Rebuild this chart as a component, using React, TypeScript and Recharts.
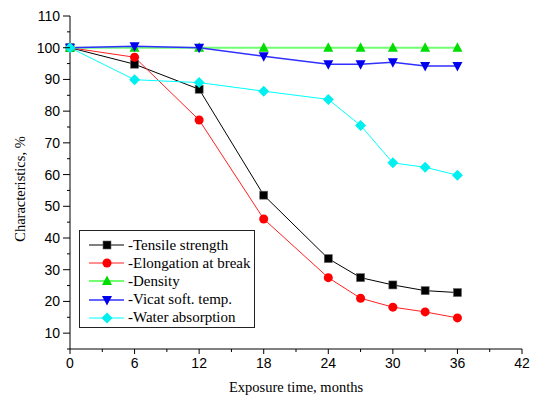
import { LineChart, Line, XAxis, YAxis, Legend } from "recharts";

const MONTHS = [0, 6, 12, 18, 24, 27, 30, 33, 36];
const TENSILE = [100, 94.8, 86.9, 53.5, 33.5, 27.5, 25.2, 23.4, 22.8];
const ELONGATION = [100, 97, 77.2, 46, 27.5, 21, 18.2, 16.7, 14.8];
const DENSITY = [100, 100, 100, 100, 100, 100, 100, 100, 100];
const VICAT = [100, 100.5, 100, 97.3, 94.8, 94.8, 95.4, 94.2, 94.2];
const WATER = [100, 89.9, 89, 86.3, 83.7, 75.5, 63.7, 62.3, 59.8];

const X_TICKS = [0, 3, 6, 9, 12, 15, 18, 21, 24, 27, 30, 33, 36, 39, 42];
const Y_TICKS = [5, 10, 15, 20, 25, 30, 35, 40, 45, 50, 55, 60, 65, 70, 75, 80, 85, 90, 95, 100, 105, 110];

const SANS = "'Liberation Sans', Arial, sans-serif";
const SERIF = "'Liberation Serif', 'Times New Roman', serif";

const data = MONTHS.map((m, i) => ({
  month: m,
  tensile: TENSILE[i],
  elongation: ELONGATION[i],
  density: DENSITY[i],
  vicat: VICAT[i],
  water: WATER[i],
}));

type Shape = "square" | "circle" | "up" | "down" | "diamond";

function Marker({ cx, cy, shape, fill }: { cx: number; cy: number; shape: Shape; fill: string }) {
  if (cx == null || cy == null) return null;
  switch (shape) {
    case "square":
      return <rect x={cx - 4} y={cy - 4} width={8} height={8} fill={fill} stroke="#666" strokeWidth={0.6} />;
    case "circle":
      return <circle cx={cx} cy={cy} r={4.5} fill={fill} />;
    case "up":
      return <polygon points={`${cx},${cy - 5.5} ${cx - 5},${cy + 4} ${cx + 5},${cy + 4}`} fill={fill} />;
    case "down":
      return <polygon points={`${cx - 5},${cy - 4} ${cx + 5},${cy - 4} ${cx},${cy + 5.5}`} fill={fill} />;
    default:
      return <polygon points={`${cx},${cy - 5.5} ${cx + 5.5},${cy} ${cx},${cy + 5.5} ${cx - 5.5},${cy}`} fill={fill} />;
  }
}

const SERIES: { key: string; name: string; line: string; marker: string; width: number; shape: Shape }[] = [
  { key: "tensile", name: "-Tensile strength", line: "#000000", marker: "#000000", width: 1, shape: "square" },
  { key: "elongation", name: "-Elongation at break", line: "#ff2020", marker: "#ff0000", width: 1, shape: "circle" },
  { key: "density", name: "-Density", line: "#70ff70", marker: "#00dd00", width: 2, shape: "up" },
  { key: "vicat", name: "-Vicat soft. temp.", line: "#3030ff", marker: "#0000ee", width: 1.5, shape: "down" },
  { key: "water", name: "-Water absorption", line: "#00ffff", marker: "#00f0f0", width: 1, shape: "diamond" },
];

function XTick(props: any) {
  const { x, y, payload } = props;
  const major = payload.value % 6 === 0;
  return (
    <g>
      <line x1={x} y1={y} x2={x} y2={y + (major ? 5 : 3)} stroke="#000" />
      {major && (
        <text x={x} y={y + 19} textAnchor="middle" fontSize={14} fontFamily={SANS} fill="#000">
          {payload.value}
        </text>
      )}
    </g>
  );
}

function YTick(props: any) {
  const { x, y, payload } = props;
  const major = payload.value % 10 === 0;
  return (
    <g>
      <line x1={x} y1={y} x2={x - (major ? 7 : 3)} y2={y} stroke="#000" />
      {major && (
        <text x={x - 10} y={y + 5} textAnchor="end" fontSize={14} fontFamily={SANS} fill="#000">
          {payload.value}
        </text>
      )}
    </g>
  );
}

function YLabel() {
  return (
    <text
      x={25}
      y={189}
      transform="rotate(-90 25 189)"
      textAnchor="middle"
      fontFamily={SERIF}
      fontSize={14.5}
      fill="#000"
    >
      Characteristics, %
    </text>
  );
}

function LegendBox() {
  return (
    <div
      style={{
        width: 174,
        height: 96,
        border: "1px solid #222",
        background: "#fff",
        position: "relative",
      }}
    >
      {SERIES.map((s, i) => (
        <div
          key={s.key}
          style={{
            position: "absolute",
            left: 0,
            top: 5 + i * 18.2,
            height: 18,
            display: "flex",
            alignItems: "center",
          }}
        >
          <svg width={48} height={18} style={{ display: "block" }}>
            <line x1={9} y1={9} x2={44} y2={9} stroke={s.line} strokeWidth={s.width} />
            <Marker cx={27} cy={9} shape={s.shape} fill={s.marker} />
          </svg>
          <span style={{ fontFamily: SERIF, fontSize: 15, color: "#000", whiteSpace: "nowrap" }}>{s.name}</span>
        </div>
      ))}
    </div>
  );
}

export default function App() {
  return (
    <div style={{ position: "absolute", left: 0, top: 0, width: 539, height: 399, background: "#fff" }}>
      <LineChart width={539} height={399} data={data} margin={{ top: 16, right: 17, bottom: 0, left: 0 }}>
        <XAxis
          dataKey="month"
          type="number"
          domain={[0, 42]}
          ticks={X_TICKS}
          interval={0}
          tickSize={0}
          tickMargin={0}
          height={50}
          stroke="#000"
          tick={<XTick />}
          label={{
            value: "Exposure time, months",
            position: "insideBottom",
            offset: 7,
            fontFamily: SERIF,
            fontSize: 14.5,
            fill: "#000",
          }}
        />
        <YAxis
          type="number"
          domain={[5, 110]}
          ticks={Y_TICKS}
          interval={0}
          tickSize={0}
          tickMargin={0}
          width={70}
          stroke="#000"
          tick={<YTick />}
          label={<YLabel />}
        />
        <Legend
          layout="vertical"
          align="center"
          verticalAlign="middle"
          content={() => <LegendBox />}
          wrapperStyle={{ left: 79, top: 230, width: 176, height: 98 }}
        />
        {SERIES.map((s) => (
          <Line
            key={s.key}
            dataKey={s.key}
            name={s.name}
            stroke={s.line}
            strokeWidth={s.width}
            isAnimationActive={false}
            dot={(p: any) => <Marker key={`${s.key}-${p.index}`} cx={p.cx} cy={p.cy} shape={s.shape} fill={s.marker} />}
            activeDot={false}
          />
        ))}
      </LineChart>
    </div>
  );
}
